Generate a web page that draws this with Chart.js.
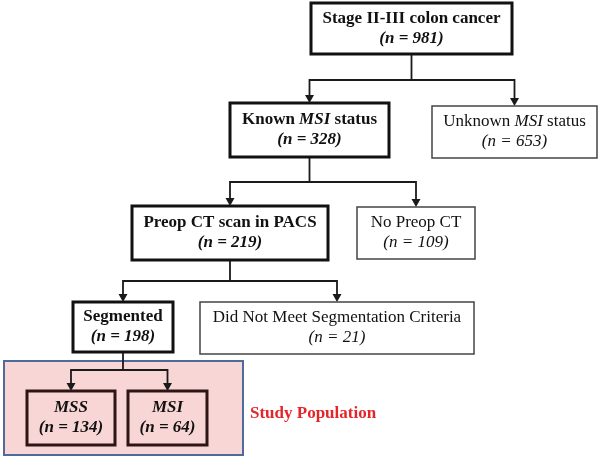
<!DOCTYPE html>
<html>
<head>
<meta charset="utf-8">
<script src="https://cdn.jsdelivr.net/npm/chart.js@4"></script>
<style>
  html, body { margin: 0; padding: 0; background: #fff; }
  #wrap { width: 600px; height: 459px; }
</style>
</head>
<body>
<div id="wrap"><canvas id="flow" width="600" height="459"></canvas></div>
<script>
// --- data ---
const nodeNames = ["Stage II-III colon cancer", "Known MSI status", "Unknown MSI status",
  "Preop CT scan in PACS", "No Preop CT", "Segmented",
  "Did Not Meet Segmentation Criteria", "MSS", "MSI"];
const nodeCounts = [981, 328, 653, 219, 109, 198, 21, 134, 64];
const nodeIncluded = [true, true, false, true, false, true, false, true, true];
const links = [[0, 1], [0, 2], [1, 3], [1, 4], [3, 5], [3, 6], [5, 7], [5, 8]];
const italicTerm = "MSI";
const groupLabel = "Study Population";
const groupMembers = [7, 8];

// --- layout (axis units, y downwards) ---
const boxLeft   = [311, 230, 432, 132, 357,  73, 200,  27, 128];
const boxRight  = [512, 389, 597, 328, 475, 173, 474, 115, 207];
const boxTop    = [  3, 103, 106, 206, 207, 302, 302, 391, 391];
const boxBottom = [ 54, 157, 158, 260, 259, 352, 354, 445, 445];
const branchY   = { 0: 80, 1: 182, 3: 281, 5: 370 };
const groupBox  = { left: 4, right: 243, top: 361, bottom: 455 };

const points = nodeNames.map((n, i) => ({
  x: (boxLeft[i] + boxRight[i]) / 2,
  y: (boxTop[i] + boxBottom[i]) / 2
}));

const FONT = '"Liberation Serif", "Times New Roman", serif';
const SIZE = 17;

// mixed bold/italic text on one line, centred
function drawRich(ctx, segs, cx, cy) {
  let total = 0;
  segs.forEach(s => {
    ctx.font = `${s.italic ? "italic " : ""}${s.bold ? "bold " : ""}${SIZE}px ${FONT}`;
    s.w = ctx.measureText(s.text).width;
    total += s.w;
  });
  let x = cx - total / 2;
  segs.forEach(s => {
    ctx.font = `${s.italic ? "italic " : ""}${s.bold ? "bold " : ""}${SIZE}px ${FONT}`;
    ctx.fillText(s.text, x, cy);
    x += s.w;
  });
}

function titleSegments(i) {
  const bold = nodeIncluded[i];
  if (groupMembers.includes(i)) return [{ text: nodeNames[i], bold, italic: true }];
  const parts = nodeNames[i].split(italicTerm);
  const segs = [];
  parts.forEach((p, k) => {
    if (p) segs.push({ text: p, bold, italic: false });
    if (k < parts.length - 1) segs.push({ text: italicTerm, bold, italic: true });
  });
  return segs;
}

const flowPlugin = {
  id: "flow",
  beforeDatasetsDraw(chart) {
    const { ctx, scales: { x, y } } = chart;
    const X = v => x.getPixelForValue(v);
    const Y = v => y.getPixelForValue(v);
    ctx.save();
    ctx.fillStyle = "#fff";
    ctx.fillRect(0, 0, chart.width, chart.height);

    // study population group
    ctx.fillStyle = "#f9d6d6";
    ctx.fillRect(X(groupBox.left), Y(groupBox.top), X(groupBox.right) - X(groupBox.left), Y(groupBox.bottom) - Y(groupBox.top));
    ctx.strokeStyle = "#4d6c9c";
    ctx.lineWidth = 2;
    ctx.strokeRect(X(groupBox.left), Y(groupBox.top), X(groupBox.right) - X(groupBox.left), Y(groupBox.bottom) - Y(groupBox.top));
    ctx.fillStyle = "#e4262b";
    ctx.font = `bold ${SIZE}px ${FONT}`;
    ctx.textAlign = "left";
    ctx.textBaseline = "middle";
    ctx.fillText(groupLabel, X(250), Y(414));

    // connectors
    ctx.strokeStyle = "#1a1a1a";
    ctx.fillStyle = "#1a1a1a";
    ctx.lineWidth = 1.8;
    const parents = [...new Set(links.map(l => l[0]))];
    parents.forEach(p => {
      const kids = links.filter(l => l[0] === p).map(l => l[1]);
      const by = branchY[p];
      const px = points[p].x;
      const xs = kids.map(k => points[k].x);
      ctx.beginPath();
      ctx.moveTo(X(px), Y(boxBottom[p]));
      ctx.lineTo(X(px), Y(by));
      ctx.moveTo(X(Math.min(...xs)) - 0.9, Y(by));
      ctx.lineTo(X(Math.max(...xs)) + 0.9, Y(by));
      kids.forEach(k => {
        ctx.moveTo(X(points[k].x), Y(by));
        ctx.lineTo(X(points[k].x), Y(boxTop[k]) - 5);
      });
      ctx.stroke();
      kids.forEach(k => {
        const ax = X(points[k].x), ay = Y(boxTop[k]);
        ctx.beginPath();
        ctx.moveTo(ax - 4.5, ay - 8);
        ctx.lineTo(ax + 4.5, ay - 8);
        ctx.lineTo(ax, ay);
        ctx.closePath();
        ctx.fill();
      });
    });

    // boxes
    nodeNames.forEach((name, i) => {
      const l = X(boxLeft[i]), t = Y(boxTop[i]);
      const w = X(boxRight[i]) - l, h = Y(boxBottom[i]) - t;
      if (!groupMembers.includes(i)) {
        ctx.fillStyle = "#fff";
        ctx.fillRect(l, t, w, h);
      }
      ctx.strokeStyle = groupMembers.includes(i) ? "#2e1414" : (nodeIncluded[i] ? "#111" : "#444");
      ctx.lineWidth = nodeIncluded[i] ? 3 : 1.5;
      ctx.strokeRect(l, t, w, h);

      ctx.fillStyle = "#111";
      ctx.textBaseline = "middle";
      ctx.textAlign = "left";
      const cx = l + w / 2, cy = t + h / 2;
      drawRich(ctx, titleSegments(i), cx, cy - 10);
      drawRich(ctx, [{ text: `(n = ${nodeCounts[i]})`, bold: nodeIncluded[i], italic: true }], cx, cy + 10);
    });
    ctx.restore();
  }
};

new Chart(document.getElementById("flow"), {
  type: "scatter",
  data: {
    datasets: [{
      data: points,
      pointRadius: 0,
      pointHoverRadius: 0
    }]
  },
  options: {
    responsive: false,
    animation: false,
    events: [],
    layout: { padding: 0 },
    plugins: { legend: { display: false }, tooltip: { enabled: false } },
    scales: {
      x: { type: "linear", min: 0, max: 600, display: false },
      y: { type: "linear", min: 0, max: 459, reverse: true, display: false }
    }
  },
  plugins: [flowPlugin]
});
</script>
</body>
</html>
